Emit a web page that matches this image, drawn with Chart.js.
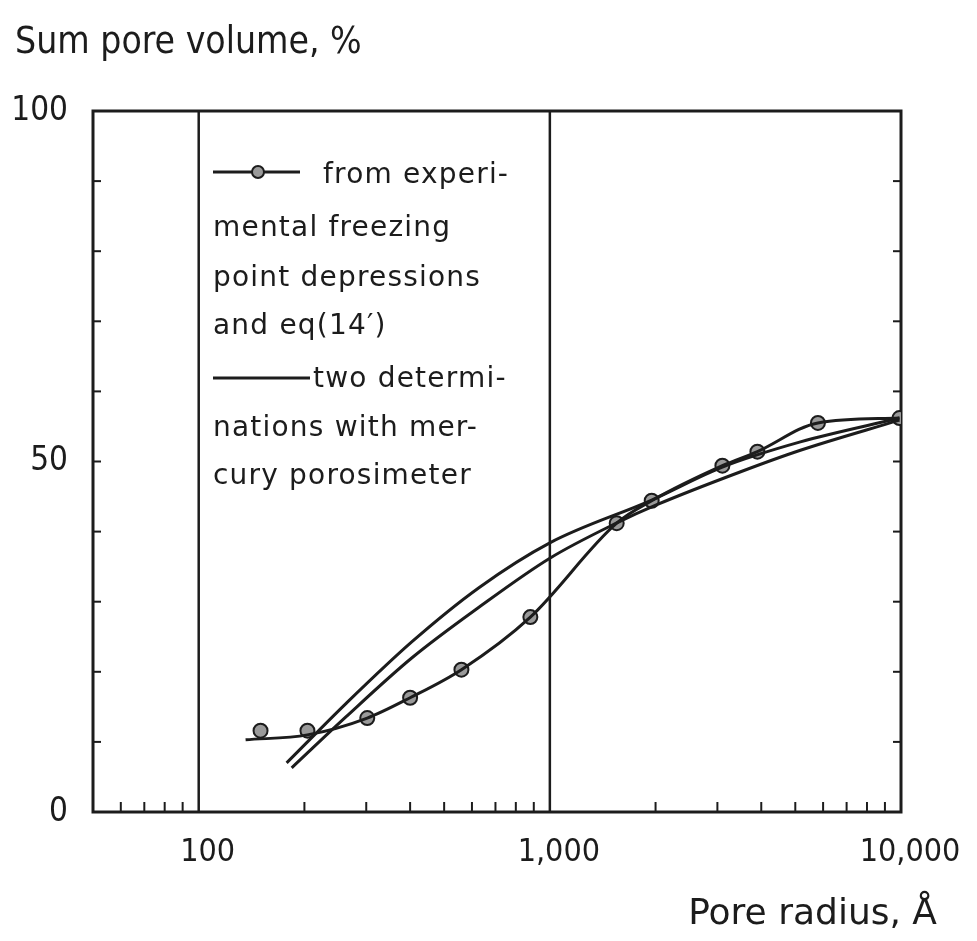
<!DOCTYPE html>
<html>
<head>
<meta charset="utf-8">
<script src="https://cdn.jsdelivr.net/npm/chart.js@4"></script>
<style>
  html, body { margin: 0; padding: 0; background: #fff; }
  #wrap { width: 977px; height: 941px; }
</style>
</head>
<body>
<div id="wrap"><canvas id="poreChart" width="977" height="941"></canvas></div>
<script>
// Experimental points (freezing point depressions + eq 14')
var expRadius = [150, 204, 302, 400, 560, 880, 1550, 1950, 3100, 3900, 5800, 9900];
var expVolume = [11.6, 11.6, 13.4, 16.3, 20.3, 27.8, 41.2, 44.4, 49.4, 51.4, 55.5, 56.2];

// Hand-drawn line through the experimental points
var expLineRadius = [136, 204, 302, 400, 560, 880, 1550, 1950, 3100, 3900, 5800, 9900];
var expLineVolume = [10.3, 11.0, 13.4, 16.3, 20.3, 27.8, 41.2, 44.4, 49.4, 51.4, 55.5, 56.2];

// Mercury porosimeter, two determinations
var hg1Radius = [178, 263, 405, 628, 1000, 1950, 3100, 5170, 9900];
var hg1Volume = [7.0, 15.5, 24.3, 32.0, 38.4, 44.5, 49.2, 52.8, 56.2];
var hg2Radius = [184, 263, 405, 628, 1000, 1546, 2010, 3480, 5170, 9900];
var hg2Volume = [6.3, 13.6, 22.0, 29.2, 36.2, 41.2, 43.8, 48.5, 51.6, 55.9];

// Axes
var xMajor = [100, 1000, 10000];
var xMajorLabels = ['100', '1,000', '10,000'];
var xMinor = [60, 70, 80, 90, 200, 300, 400, 500, 600, 700, 800, 900,
              2000, 3000, 4000, 5000, 6000, 7000, 8000, 9000];
var xGridLines = [100, 1000];
var yMinor = [10, 20, 30, 40, 50, 60, 70, 80, 90];

var yTitle = 'Sum pore volume, %';
var xTitle = 'Pore radius, \u00c5';
var legendLines = [
    'from experi-',
    'mental freezing',
    'point depressions',
    'and eq(14\u2032)',
    'two determi-',
    'nations with mer-',
    'cury porosimeter'
];

var ink = '#1c1c1c';
var narrow = '"Liberation Sans Narrow", "DejaVu Sans Condensed", "Liberation Sans", sans-serif';

function toXY(xs, ys) {
    return xs.map(function(x, i) { return { x: x, y: ys[i] }; });
}

// frame, grid lines, inward ticks, titles and the hand-lettered legend
var paperPlugin = {
    id: 'paper',
    beforeDatasetsDraw: function(chart) {
        var ctx = chart.ctx, a = chart.chartArea;
        var xs = chart.scales.x, ys = chart.scales.y;
        ctx.save();
        ctx.strokeStyle = ink;
        ctx.lineWidth = 2.5;
        xGridLines.forEach(function(v) {
            var px = xs.getPixelForValue(v);
            ctx.beginPath(); ctx.moveTo(px, a.top); ctx.lineTo(px, a.bottom); ctx.stroke();
        });
        ctx.lineWidth = 2;
        xMinor.forEach(function(v) {
            var px = xs.getPixelForValue(v);
            ctx.beginPath(); ctx.moveTo(px, a.bottom); ctx.lineTo(px, a.bottom - 10); ctx.stroke();
        });
        yMinor.forEach(function(v) {
            var py = ys.getPixelForValue(v);
            ctx.beginPath(); ctx.moveTo(a.left, py); ctx.lineTo(a.left + 8, py); ctx.stroke();
            ctx.beginPath(); ctx.moveTo(a.right, py); ctx.lineTo(a.right - 8, py); ctx.stroke();
        });
        ctx.lineWidth = 3;
        ctx.strokeRect(a.left, a.top, a.right - a.left, a.bottom - a.top);
        ctx.restore();
    },
    afterDraw: function(chart) {
        var ctx = chart.ctx;
        ctx.save();
        ctx.fillStyle = ink;
        ctx.textBaseline = 'alphabetic';

        ctx.font = '37px ' + narrow;
        ctx.letterSpacing = '0px';
        ctx.textAlign = 'left';
        ctx.fillText(yTitle, 15, 53);

        ctx.font = '36px "DejaVu Sans", sans-serif';
        ctx.textAlign = 'right';
        ctx.fillText(xTitle, 937, 924);

        // legend
        ctx.textAlign = 'left';
        ctx.font = '28px "DejaVu Sans", sans-serif';
        ctx.letterSpacing = '1.2px';
        var baselines = [183, 236, 286, 334, 387, 436, 484];
        legendLines.forEach(function(t, i) {
            var x = 213;
            if (i === 0) x = 323;
            if (i === 4) x = 313;
            ctx.fillText(t, x, baselines[i]);
        });
        ctx.strokeStyle = ink;
        ctx.lineWidth = 3;
        ctx.beginPath(); ctx.moveTo(213, 172); ctx.lineTo(300, 172); ctx.stroke();
        ctx.beginPath(); ctx.moveTo(213, 378); ctx.lineTo(310, 378); ctx.stroke();
        ctx.beginPath();
        ctx.arc(258, 172, 6, 0, Math.PI * 2);
        ctx.fillStyle = '#9a9a9a';
        ctx.fill();
        ctx.lineWidth = 2;
        ctx.stroke();
        ctx.restore();
    }
};

var lineStyle = {
    borderColor: ink,
    borderWidth: 3,
    pointRadius: 0,
    fill: false,
    cubicInterpolationMode: 'monotone',
    showLine: true
};

var ctx = document.getElementById('poreChart').getContext('2d');
var poreChart = new Chart(ctx, {
    type: 'scatter',
    data: {
        datasets: [
            Object.assign({ label: 'exp line', data: toXY(expLineRadius, expLineVolume) }, lineStyle),
            Object.assign({ label: 'mercury 1', data: toXY(hg1Radius, hg1Volume) }, lineStyle),
            Object.assign({ label: 'mercury 2', data: toXY(hg2Radius, hg2Volume) }, lineStyle),
            {
                label: 'freezing point depressions',
                data: toXY(expRadius, expVolume),
                showLine: false,
                pointRadius: 7,
                pointBackgroundColor: '#9a9a9a',
                pointBorderColor: ink,
                pointBorderWidth: 2
            }
        ]
    },
    options: {
        responsive: false,
        animation: false,
        events: [],
        layout: { padding: { top: 111, right: 76, left: 0, bottom: 0 } },
        plugins: { legend: { display: false }, tooltip: { enabled: false } },
        scales: {
            x: {
                type: 'logarithmic',
                min: 50,
                max: 10000,
                grid: { display: false, drawTicks: false },
                border: { display: false },
                afterBuildTicks: function(scale) {
                    scale.ticks = xMajor.map(function(v) { return { value: v }; });
                },
                afterFit: function(scale) { scale.height = 129; },
                ticks: {
                    autoSkip: false,
                    maxRotation: 0,
                    padding: 21,
                    labelOffset: 9,
                    color: ink,
                    font: { family: narrow, size: 32 },
                    callback: function(value) {
                        var i = xMajor.indexOf(value);
                        return i >= 0 ? xMajorLabels[i] : '';
                    }
                }
            },
            y: {
                min: 0,
                max: 100,
                grid: { display: false, drawTicks: false },
                border: { display: false },
                afterFit: function(scale) { scale.width = 93; },
                ticks: {
                    stepSize: 50,
                    padding: 25,
                    color: ink,
                    font: { family: narrow, size: 33 }
                }
            }
        }
    },
    plugins: [paperPlugin]
});
</script>
</body>
</html>
